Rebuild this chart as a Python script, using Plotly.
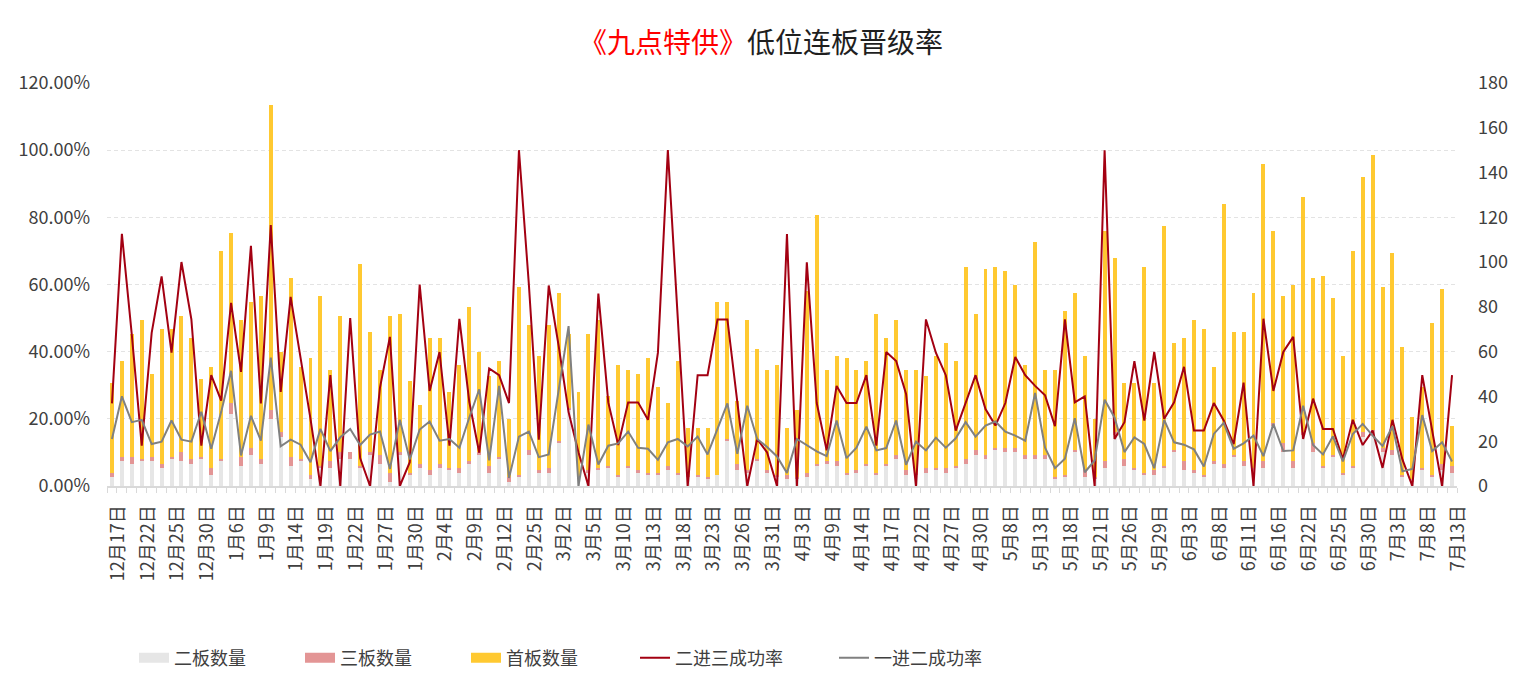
import plotly.graph_objects as go

dates = [
    "12月17日", "12月18日", "12月21日", "12月22日", "12月23日", "12月24日", "12月25日", "12月28日", "12月29日",
    "12月30日", "12月31日", "1月4日", "1月6日", "1月7日", "1月8日", "1月9日", "1月12日", "1月13日",
    "1月14日", "1月15日", "1月18日", "1月19日", "1月20日", "1月21日", "1月22日", "1月25日", "1月26日",
    "1月27日", "1月28日", "1月29日", "1月30日", "2月2日", "2月3日", "2月4日", "2月5日", "2月8日",
    "2月9日", "2月10日", "2月11日", "2月12日", "2月23日", "2月24日", "2月25日", "2月26日", "3月1日",
    "3月2日", "3月3日", "3月4日", "3月5日", "3月8日", "3月9日", "3月10日", "3月11日", "3月12日",
    "3月13日", "3月16日", "3月17日", "3月18日", "3月19日", "3月22日", "3月23日", "3月24日", "3月25日",
    "3月26日", "3月29日", "3月30日", "3月31日", "4月1日", "4月2日", "4月3日", "4月7日", "4月8日",
    "4月9日", "4月12日", "4月13日", "4月14日", "4月15日", "4月16日", "4月17日", "4月20日", "4月21日",
    "4月22日", "4月23日", "4月26日", "4月27日", "4月28日", "4月29日", "4月30日", "5月6日", "5月7日",
    "5月8日", "5月11日", "5月12日", "5月13日", "5月14日", "5月17日", "5月18日", "5月19日", "5月20日",
    "5月21日", "5月24日", "5月25日", "5月26日", "5月27日", "5月28日", "5月29日", "6月1日", "6月2日",
    "6月3日", "6月4日", "6月7日", "6月8日", "6月9日", "6月10日", "6月11日", "6月14日", "6月15日",
    "6月16日", "6月18日", "6月19日", "6月22日", "6月23日", "6月24日", "6月25日", "6月28日", "6月29日",
    "6月30日", "7月1日", "7月2日", "7月3日", "7月6日", "7月7日", "7月8日", "7月9日", "7月12日",
    "7月13日",
]

# 二板数量
erban = [
    4, 11, 10, 11, 11, 8, 12, 11, 10, 12, 5, 11, 32, 9, 14, 10, 30, 22, 9, 11,
    3, 8, 8, 12, 12, 8, 14, 10, 2, 14, 5, 8, 5, 8, 7, 6, 10, 14, 6, 12,
    2, 4, 14, 6, 6, 19, 34, 3, 6, 7, 8, 4, 8, 6, 5, 5, 7, 5, 4, 4,
    3, 5, 20, 7, 6, 11, 6, 4, 3, 3, 4, 9, 10, 9, 5, 6, 9, 5, 9, 12,
    5, 5, 6, 7, 6, 8, 10, 14, 12, 16, 15, 15, 12, 12, 12, 3, 4, 15, 4, 3,
    8, 23, 9, 7, 5, 5, 8, 15, 7, 6, 4, 10, 8, 13, 9, 6, 8, 27, 15, 8,
    23, 15, 8, 13, 5, 8, 22, 23, 15, 14, 4, 2, 7, 4, 7, 6,
]

# 三板数量
sanban = [
    2, 2, 3, 1, 2, 2, 1, 4, 2, 1, 3, 1, 5, 4, 3, 2, 4, 2, 4, 1,
    2, 1, 3, 3, 3, 1, 1, 4, 4, 1, 1, 2, 2, 2, 1, 2, 1, 1, 3, 1,
    2, 1, 2, 1, 2, 1, 1, 1, 1, 1, 1, 1, 1, 1, 1, 1, 2, 1, 1, 1,
    1, 0, 1, 3, 1, 1, 1, 1, 2, 1, 2, 1, 1, 2, 1, 1, 1, 1, 1, 2,
    2, 1, 2, 1, 2, 1, 2, 2, 2, 1, 2, 2, 2, 2, 2, 1, 1, 1, 3, 1,
    3, 1, 3, 1, 1, 2, 1, 1, 4, 1, 1, 1, 2, 1, 2, 2, 3, 1, 4, 3,
    1, 4, 1, 1, 1, 1, 2, 2, 2, 2, 1, 1, 1, 1, 3, 3,
]

# 首板数量
shouban = [
    40, 43, 55, 62, 37, 60, 57, 61, 54, 35, 45, 93, 76, 61, 65, 73, 136, 36, 80, 41,
    52, 76, 41, 61, 0, 90, 54, 38, 70, 62, 41, 26, 59, 56, 34, 46, 69, 45, 40, 43,
    26, 84, 56, 51, 64, 66, 33, 38, 61, 66, 31, 49, 43, 43, 51, 38, 28, 50, 21, 21,
    22, 77, 61, 28, 67, 49, 45, 49, 21, 30, 81, 111, 41, 47, 51, 45, 46, 71, 56, 60,
    45, 46, 41, 50, 56, 47, 86, 61, 83, 81, 79, 73, 40, 95, 38, 48, 73, 70, 51, 26,
    103, 78, 34, 38, 92, 39, 107, 48, 55, 67, 65, 42, 116, 55, 58, 78, 133, 86, 66, 79,
    105, 74, 85, 70, 52, 96, 114, 123, 72, 88, 57, 28, 36, 68, 78, 18,
]

# 二进三成功率 (%)
rate_2to3 = [
    24.6, 75.1, 45.0, 12.0, 45.6, 62.4, 39.7, 66.7, 49.6, 12.0, 33.0, 25.4, 54.5, 34.0, 71.5, 24.6, 77.7, 28.0, 56.3, 38.7,
    20.0, 0.0, 33.0, 0.0, 50.0, 8.3, 0.0, 29.3, 44.4, 0.0, 7.1, 60.0, 28.3, 39.9, 12.0, 49.8, 25.0, 9.9, 35.0, 33.0,
    24.7, 100.0, 60.0, 13.8, 59.7, 41.7, 22.0, 10.0, 0.0, 57.3, 24.9, 12.2, 24.9, 24.9, 19.7, 39.7, 100.0, 50.0, 0.0, 33.0,
    33.0, 49.6, 49.6, 25.0, 0.0, 14.0, 10.0, 0.0, 75.0, 0.0, 66.6, 24.7, 10.6, 29.8, 24.7, 24.7, 33.0, 12.0, 39.9, 37.2,
    27.4, 0.0, 49.6, 39.7, 33.0, 16.5, 24.7, 33.0, 22.9, 18.0, 24.7, 38.4, 33.0, 29.8, 27.0, 17.8, 49.6, 24.9, 26.7, 0.0,
    100.0, 14.0, 19.0, 37.2, 19.5, 39.9, 20.0, 24.9, 35.5, 16.5, 16.5, 24.7, 19.5, 12.5, 30.8, 0.0, 49.8, 28.3, 39.9, 44.4,
    14.0, 26.0, 17.0, 17.0, 8.0, 19.7, 12.2, 16.5, 5.4, 19.7, 7.9, 0.0, 33.0, 17.0, 0.0, 33.0,
]

# 一进二成功率 (%)
rate_1to2 = [
    14.0, 26.7, 19.0, 19.7, 12.5, 13.2, 19.5, 13.8, 13.2, 22.1, 11.1, 22.0, 34.3, 9.1, 20.9, 13.5, 38.2, 11.8, 13.8, 12.3,
    7.1, 17.0, 10.4, 14.5, 17.0, 12.2, 15.3, 16.2, 5.1, 19.7, 7.9, 16.8, 19.2, 13.5, 14.0, 11.4, 20.4, 28.8, 7.6, 29.8,
    2.4, 14.7, 16.2, 8.6, 9.4, 28.3, 47.6, 0.0, 18.3, 6.4, 12.0, 12.7, 16.2, 11.4, 11.1, 7.8, 13.0, 14.0, 11.8, 14.7,
    9.4, 17.0, 24.6, 9.6, 23.9, 14.0, 11.6, 8.8, 3.9, 14.0, 12.2, 10.3, 8.9, 19.5, 8.3, 11.4, 17.7, 10.6, 11.3, 19.5,
    6.3, 13.2, 10.6, 14.4, 11.4, 14.2, 19.0, 14.7, 18.0, 19.2, 16.2, 15.0, 13.5, 27.7, 11.4, 5.3, 8.1, 20.2, 4.1, 7.6,
    25.7, 20.4, 10.1, 14.5, 12.5, 5.3, 19.7, 13.0, 12.3, 10.9, 5.8, 15.5, 18.8, 11.1, 12.7, 15.0, 8.9, 18.5, 10.4, 10.6,
    23.9, 12.2, 9.4, 14.8, 7.3, 15.5, 18.5, 15.0, 11.9, 17.8, 4.4, 5.1, 21.1, 10.4, 13.0, 7.3,
]

tick_text = [d if i % 3 == 0 else "" for i, d in enumerate(dates)]

FONT = "Noto Sans CJK SC, Noto Sans, sans-serif"
TXT = "#404040"
C_ER, C_SAN, C_SHOU = "#E6E6E6", "#E39595", "#FFC931"
C_L23, C_L12 = "#A30012", "#808080"

fig = go.Figure()
# bars (drawn on base axis, under the lines)
fig.add_trace(go.Bar(x=dates, y=erban, name="二板数量", marker=dict(color=C_ER, line=dict(width=0)),
                     yaxis="y", showlegend=False))
fig.add_trace(go.Bar(x=dates, y=sanban, name="三板数量", marker=dict(color=C_SAN, line=dict(width=0)),
                     yaxis="y", showlegend=False))
fig.add_trace(go.Bar(x=dates, y=shouban, name="首板数量", marker=dict(color=C_SHOU, line=dict(width=0)),
                     yaxis="y", showlegend=False))
# legend swatches for the bar series (wide boxes like the reference)
for nm, col in [("二板数量", C_ER), ("三板数量", C_SAN), ("首板数量", C_SHOU)]:
    fig.add_trace(go.Scatter(x=[None], y=[None], name=nm, mode="lines",
                             line=dict(color=col, width=14), yaxis="y", legend="legend"))
# rate lines
fig.add_trace(go.Scatter(x=dates, y=rate_2to3, name="二进三成功率", mode="lines",
                         line=dict(color=C_L23, width=2), yaxis="y2", legend="legend2"))
fig.add_trace(go.Scatter(x=dates, y=rate_1to2, name="一进二成功率", mode="lines",
                         line=dict(color=C_L12, width=2), yaxis="y2", legend="legend2"))

fig.update_layout(
    width=1522, height=688,
    margin=dict(l=107, r=65, t=83, b=200),
    paper_bgcolor="white", plot_bgcolor="white",
    barmode="stack", bargap=0.6,
    font=dict(family=FONT, size=18, color=TXT),
    title=dict(
        text='<span style="color:#FF0000">《九点特供》</span>低位连板晋级率',
        x=0.5, xanchor="center", y=1 - 43 / 688, yanchor="middle", yref="container",
        font=dict(family=FONT, size=28, color="#1F1F1F"),
    ),
    xaxis=dict(
        type="category", tickmode="array", tickvals=dates, ticktext=tick_text,
        tickangle=-90, tickson="boundaries", ticks="outside", ticklen=5,
        tickcolor="#D9D9D9", showline=True, linecolor="#D9D9D9", linewidth=2,
        showgrid=False, tickfont=dict(size=18, color=TXT),
        ticklabelstandoff=10, ticklabelshift=6,
    ),
    yaxis=dict(
        side="right", range=[0, 180], dtick=20, tick0=0, showgrid=False, zeroline=False,
        showline=False, ticks="", ticklabelstandoff=20, tickfont=dict(size=18, color=TXT),
    ),
    yaxis2=dict(
        side="left", overlaying="y", range=[0, 120], dtick=20, tick0=0,
        tickformat=".2f", ticksuffix="%", showgrid=True, gridcolor="#E3E3E3",
        griddash="4px,3px", gridwidth=1, zeroline=False, showline=False, ticks="",
        ticklabelstandoff=16, tickfont=dict(size=18, color=TXT),
    ),
    legend=dict(
        orientation="h", traceorder="normal", x=(134 - 107) / 1350, xanchor="left",
        y=(488 - 661) / 405, yanchor="middle",
        entrywidth=121, font=dict(size=18, color=TXT), bgcolor="rgba(0,0,0,0)",
    ),
    legend2=dict(
        orientation="h", traceorder="normal", x=(635 - 107) / 1350, xanchor="left",
        y=(488 - 661) / 405, yanchor="middle",
        entrywidth=154, font=dict(size=18, color=TXT), bgcolor="rgba(0,0,0,0)",
    ),
    hovermode=False,
)

fig.write_html("out.html")
